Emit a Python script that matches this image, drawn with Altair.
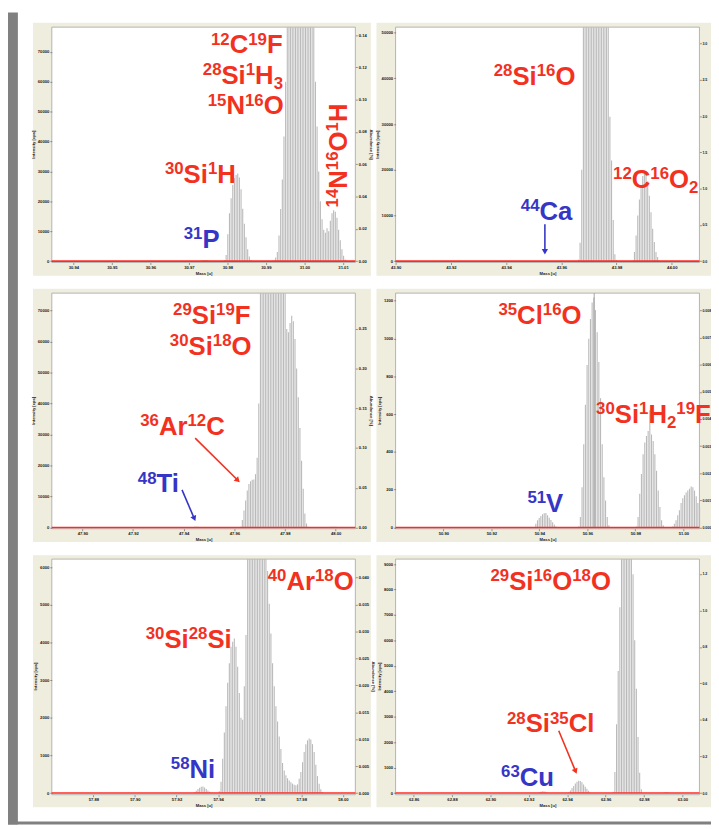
import math
import altair as alt
import pandas as pd

W, H = 711, 821
OFF = 200000  # bar that runs off the top of the plot

# ---------------- data ----------------
# Panel 1  (m/z 31)
P1_X = [30.9344, 31.0132]
P1_XTICKS = [30.94, 30.95, 30.96, 30.97, 30.98, 30.99, 31.00, 31.01]
P1_YMAX = 78270
P1_YTICKS = [0, 10000, 20000, 30000, 40000, 50000, 60000, 70000]
P1_RMAX = 0.1449
P1_RTICKS = [0.0, 0.02, 0.04, 0.06, 0.08, 0.10, 0.12, 0.14]
P1_STEP = 0.00043
P1_STARTS = [30.97314, 30.97923, 30.99209]
P1_PEAKS = [
    [150, 300, 400, 400, 300, 150],
    [300, 2000, 9000, 16000, 21000, 25500, 27800, 28800, 29300, 28000, 24000,
     17500, 12500, 8000, 4000, 1500, 400],
    [300, 1200, 3000, 8600, 17400, 27300, 41700, 60000,
     OFF, OFF, OFF, OFF, OFF, OFF, OFF, OFF, OFF, OFF, OFF, OFF, OFF, OFF, OFF, OFF, OFF,
     60000, 45000, 30000, 20000, 14000, 10500, 9500, 11000, 10000, 13500, 16000,
     17000, 16500, 14500, 10500, 7000, 4000, 1800, 500, 100],
]

# Panel 2  (m/z 44)
P2_X = [43.90, 44.010]
P2_XTICKS = [43.90, 43.92, 43.94, 43.96, 43.98, 44.00]
P2_YMAX = 51210
P2_YTICKS = [0, 10000, 20000, 30000, 40000, 50000]
P2_RMAX = 3.226
P2_RTICKS = [0.0, 0.5, 1.0, 1.5, 2.0, 2.5, 3.0]
P2_STEP = 0.0006
P2_STARTS = [43.96619, 43.98587]
P2_PEAKS = [
    [300, 4000, 20000,
     OFF, OFF, OFF, OFF, OFF, OFF, OFF, OFF, OFF, OFF, OFF, OFF, OFF, OFF, OFF, OFF,
     31600, 22000, 9000, 1500, 200],
    [100, 2000, 5600, 10000, 13500, 16500, 18600, 19300, 19000, 17500, 14300,
     10700, 7100, 4200, 2000, 900, 100],
]

# Panel 3  (m/z 48)
P3_X = [47.8879, 48.0078]
P3_XTICKS = [47.90, 47.92, 47.94, 47.96, 47.98, 48.00]
P3_YMAX = 75610
P3_YTICKS = [0, 10000, 20000, 30000, 40000, 50000, 60000, 70000]
P3_RMAX = 0.2948
P3_RTICKS = [0.0, 0.05, 0.10, 0.15, 0.20, 0.25]
P3_STEP = 0.00065
P3_STARTS = [47.94364, 47.96251, 47.99755]
P3_PEAKS = [
    [100, 200, 250, 200, 100],
    [200, 2400, 5500, 8700, 11900, 14000, 14900, 15400, 15500, 17200, 22500, 40000,
     OFF, OFF, OFF, OFF, OFF, OFF, OFF, OFF, OFF, OFF, OFF, OFF, OFF, OFF, OFF, OFF,
     64000, 63000, 66000, 68300, 66500, 60800, 51300, 42000, 32100, 21500, 12500,
     4500, 1300, 200],
    [100, 200, 250, 250, 200, 100],
]

# Panel 4  (m/z 51)
P4_X = [50.8801, 51.0067]
P4_XTICKS = [50.90, 50.92, 50.94, 50.96, 50.98, 51.00]
P4_YMAX = 1239.8
P4_YTICKS = [0, 200, 400, 600, 800, 1000, 1200]
P4_RMAX = 0.008643
P4_RTICKS = [0.0, 0.001, 0.002, 0.003, 0.004, 0.005, 0.006, 0.007, 0.008]
P4_STEP = 0.0007
P4_STARTS = [50.93783, 50.95639, 50.98043, 50.99556]
P4_PEAKS = [
    [3, 20, 38, 50, 60, 70, 75, 77, 65, 52, 40, 28, 15, 5],
    [5, 56, 213, 440, 649, 859, 998, 1103, 1190, 1217, 1150, 1033, 876, 684, 440,
     265, 143, 56, 12],
    [5, 56, 178, 283, 387, 449, 484, 510, 620, 492, 457, 387, 300, 196, 108, 38, 12],
    [5, 20, 38, 65, 91, 130, 155, 170, 185, 195, 205, 217, 213, 195, 165, 130, 108],
]
P4_MARKER = [50.96286]

# Panel 5  (m/z 58)
P5_X = [57.86, 58.006]
P5_XTICKS = [57.88, 57.90, 57.92, 57.94, 57.96, 57.98, 58.00]
P5_YMAX = 6218
P5_YTICKS = [0, 1000, 2000, 3000, 4000, 5000, 6000]
P5_RMAX = 0.04341
P5_RTICKS = [0.0, 0.005, 0.010, 0.015, 0.020, 0.025, 0.030, 0.035, 0.040]
P5_STEP = 0.0008
P5_STARTS = [57.9287, 57.94059]
P5_PEAKS = [
    [20, 60, 110, 140, 170, 175, 150, 110, 70, 35, 10],
    [50, 300, 910, 1610, 2310, 2930, 3450, 3890, 4020, 4110, 3890, 3360, 2660, 2000,
     1950, 2840, 4200,
     OFF, OFF, OFF, OFF, OFF, OFF, OFF, OFF, OFF, OFF, OFF, OFF,
     5900, 5030, 4240, 3450, 2840, 2310, 1900, 1500, 1170, 800, 600, 470, 390, 330,
     290, 250, 220, 210, 230, 380, 560, 820, 1090, 1300, 1400, 1450, 1420, 1300,
     1090, 750, 450, 250, 100, 30],
]

# Panel 6  (m/z 63)
P6_X = [62.8506, 63.0089]
P6_XTICKS = [62.86, 62.88, 62.90, 62.92, 62.94, 62.96, 62.98, 63.00]
P6_YMAX = 9194
P6_YTICKS = [0, 1000, 2000, 3000, 4000, 5000, 6000, 7000, 8000, 9000]
P6_RMAX = 1.281
P6_RTICKS = [0.0, 0.2, 0.4, 0.6, 0.8, 1.0, 1.2]
P6_STEP = 0.00086
P6_STARTS = [62.92534, 62.94081, 62.96400, 62.99]
P6_PEAKS = [
    [20, 50, 70, 70, 50, 20],
    [20, 100, 200, 280, 375, 440, 480, 475, 420, 340, 245, 170, 90, 20],
    [50, 830, 2700, 4800, 7300, OFF, OFF, OFF, OFF, OFF, OFF, OFF,
     8600, 6000, 4100, 2200, 800, 150],
    [10, 30, 40, 30, 10],
]

# Annotations: "^" = superscript digits, "_" = subscript digits
RED = "#f2311f"
BLUE = "#3636c6"
LABELS = [
    ("^12C^19F", 205.3, 41.3, RED),
    ("^28Si^1H_3", 197.0, 72.0, RED),
    ("^15N^16O", 202.0, 103.0, RED),
    ("^30Si^1H", 158.7, 172.0, RED),
    ("^31P", 177.7, 238.0, BLUE),
    ("^28Si^16O", 491.3, 73.0, RED),
    ("^12C^16O_2", 612.0, 177.0, RED),
    ("^44Ca", 518.7, 209.3, BLUE),
    ("^29Si^19F", 167.0, 315.3, RED),
    ("^30Si^18O", 163.7, 346.0, RED),
    ("^36Ar^12C", 133.7, 427.0, RED),
    ("^48Ti", 131.3, 485.3, BLUE),
    ("^35Cl^16O", 496.0, 315.3, RED),
    ("^30Si^1H_2^19F", 594.8, 414.7, RED),
    ("^51V", 525.3, 505.3, BLUE),
    ("^40Ar^18O", 262.7, 583.7, RED),
    ("^30Si^28Si", 139.3, 643.0, RED),
    ("^58Ni", 164.7, 773.7, BLUE),
    ("^29Si^16O^18O", 488.0, 583.7, RED),
    ("^28Si^35Cl", 504.7, 728.0, RED),
    ("^63Cu", 498.7, 782.0, BLUE),
]
ROT_LABELS = [("^14N^16O^1H", 343.0, 197.0, RED)]
ARROWS = [
    (543.0, 214.0, 543.0, 245.0, BLUE),
    (189.3, 430.3, 234.7, 475.3, RED),
    (176.0, 482.7, 189.7, 514.7, BLUE),
    (557.0, 726.3, 575.3, 770.3, RED),
]

# ---------------- layout / style ----------------
BEIGE = "#efeddd"
FRAME = "#808080"
BAR = "#bababa"
BORDER = "#a4a4a4"
BASE = "#ff2b22"

COL_PX = [(44.3, 351.3), (392.0, 699.3)]
ROW_PX = [(14.7, 251.3, 252.7), (283.7, 520.7, 522.0), (552.7, 789.3, 791.0)]
BEIGE_COL = [(25.3, 367.0), (372.7, 711.0)]
BEIGE_ROW = [(10.3, 266.0), (279.3, 535.3), (548.7, 803.7)]

PANELS = [
    dict(x=P1_X, xt=P1_XTICKS, ymax=P1_YMAX, yt=P1_YTICKS, rmax=P1_RMAX, rt=P1_RTICKS,
         rf=".2f", step=P1_STEP, starts=P1_STARTS, peaks=P1_PEAKS, col=0, row=0),
    dict(x=P2_X, xt=P2_XTICKS, ymax=P2_YMAX, yt=P2_YTICKS, rmax=P2_RMAX, rt=P2_RTICKS,
         rf=".1f", step=P2_STEP, starts=P2_STARTS, peaks=P2_PEAKS, col=1, row=0),
    dict(x=P3_X, xt=P3_XTICKS, ymax=P3_YMAX, yt=P3_YTICKS, rmax=P3_RMAX, rt=P3_RTICKS,
         rf=".2f", step=P3_STEP, starts=P3_STARTS, peaks=P3_PEAKS, col=0, row=1),
    dict(x=P4_X, xt=P4_XTICKS, ymax=P4_YMAX, yt=P4_YTICKS, rmax=P4_RMAX, rt=P4_RTICKS,
         rf=".3f", step=P4_STEP, starts=P4_STARTS, peaks=P4_PEAKS, col=1, row=1,
         marker=P4_MARKER),
    dict(x=P5_X, xt=P5_XTICKS, ymax=P5_YMAX, yt=P5_YTICKS, rmax=P5_RMAX, rt=P5_RTICKS,
         rf=".3f", step=P5_STEP, starts=P5_STARTS, peaks=P5_PEAKS, col=0, row=2),
    dict(x=P6_X, xt=P6_XTICKS, ymax=P6_YMAX, yt=P6_YTICKS, rmax=P6_RMAX, rt=P6_RTICKS,
         rf=".1f", step=P6_STEP, starts=P6_STARTS, peaks=P6_PEAKS, col=1, row=2),
]

AX = dict(domain=False, grid=False, labelFont="Liberation Sans",
          labelFontWeight="bold", labelColor="#222222", tickSize=2, tickColor="#555555",
          tickWidth=0.6, titleFont="Liberation Sans", titleFontSize=4.2,
          titleFontWeight="bold", titleColor="#222222", titlePadding=2, zindex=1,
          labelFlush=False, labelOverlap=False)

ADV = {"0": .556, "1": .556, "2": .556, "3": .556, "4": .556, "5": .556, "6": .556,
       "7": .556, "8": .556, "9": .556, "C": .722, "F": .611, "S": .667, "i": .278,
       "H": .722, "N": .722, "O": .778, "P": .667, "a": .556, "r": .389, "A": .722,
       "T": .611, "l": .278, "V": .667, "u": .611}
MAIN, SMALL, RAISE, DROP = 26, 17, 9, 5


def parse(s):
    segs, i = [], 0
    while i < len(s):
        if s[i] in "^_":
            j = i + 1
            while j < len(s) and s[j].isdigit():
                j += 1
            segs.append((s[i + 1:j], "sup" if s[i] == "^" else "sub"))
            i = j
        else:
            j = i
            while j < len(s) and s[j] not in "^_":
                j += 1
            segs.append((s[i:j], "main"))
            i = j
    return segs


def text_rows(labels, rotated):
    rows = []
    for s, bx, by, c in labels:
        cur = 0.0
        for t, kind in parse(s):
            size = MAIN if kind == "main" else SMALL
            off = -RAISE if kind == "sup" else (DROP if kind == "sub" else 0)
            if rotated:
                rows.append(dict(x=bx + off, y=by - cur, t=t, s=size, c=c))
            else:
                rows.append(dict(x=bx + cur, y=by + off, t=t, s=size, c=c))
            cur += sum(ADV[ch] for ch in t) * size
    return pd.DataFrame(rows)


layers = []

# frame and panel backgrounds
deco = [dict(x0=0, x1=10, y0=0, y1=H, f=FRAME), dict(x0=0, x1=W, y0=818, y1=H, f=FRAME)]
plots = []
for p in PANELS:
    bx0, bx1 = BEIGE_COL[p["col"]]
    by0, by1 = BEIGE_ROW[p["row"]]
    deco.append(dict(x0=bx0, x1=bx1, y0=by0, y1=by1, f=BEIGE))
    px0, px1 = COL_PX[p["col"]]
    top, zero, bottom = ROW_PX[p["row"]]
    plots.append(dict(x0=px0, x1=px1, y0=top, y1=bottom))

layers.append(alt.Chart(pd.DataFrame(deco)).mark_rect().encode(
    x=alt.X("x0:Q", scale=None), x2="x1:Q",
    y=alt.Y("y0:Q", scale=None), y2="y1:Q",
    fill=alt.Fill("f:N", scale=None)))
layers.append(alt.Chart(pd.DataFrame(plots)).mark_rect(
    fill="white", stroke=BORDER, strokeWidth=0.8).encode(
    x=alt.X("x0:Q", scale=None), x2="x1:Q",
    y=alt.Y("y0:Q", scale=None), y2="y1:Q"))

for p in PANELS:
    px0, px1 = COL_PX[p["col"]]
    top, zero, bottom = ROW_PX[p["row"]]
    right_col = p["col"] == 1
    rows = []
    for st, vals in zip(p["starts"], p["peaks"]):
        for k, v in enumerate(vals):
            rows.append(dict(m=st + k * p["step"], v=v))
    df = pd.DataFrame(rows)
    xs = alt.Scale(domain=p["x"], range=[px0, px1], nice=False, zero=False)
    ys = alt.Scale(domain=[0, p["ymax"]], range=[zero, top], nice=False, zero=False,
                   clamp=True)
    rs = alt.Scale(domain=[0, p["rmax"]], range=[zero, top], nice=False, zero=False)
    layers.append(alt.Chart(df).mark_rule(color=BAR, strokeWidth=1.1).encode(
        x=alt.X("m:Q", scale=xs, axis=alt.Axis(
            orient="bottom", offset=bottom - H, values=p["xt"], format=".2f",
            title="Mass [u]", labelFontSize=4.2, labelPadding=1, **AX)),
        y=alt.Y("v:Q", scale=ys, axis=alt.Axis(
            orient="left", offset=-px0, values=p["yt"], format="d",
            title="Intensity [cps]", labelFontSize=4.2, labelPadding=1, **AX)),
        y2=alt.datum(0)))
    if "marker" in p:
        layers.append(alt.Chart(pd.DataFrame({"m": p["marker"], "v": [p["ymax"]]}))
                      .mark_rule(color="#9a9a9a", strokeWidth=0.9).encode(
            x=alt.X("m:Q", scale=xs, axis=None),
            y=alt.Y("v:Q", scale=ys, axis=None),
            y2=alt.datum(0)))
    raxis = dict(orient="right", offset=px1 - W, values=p["rt"], format=p["rf"],
                 labelFontSize=3.6 if right_col else 4.2,
                 labelPadding=0.5 if right_col else 1, **AX)
    if right_col:
        raxis["title"] = None
    else:
        raxis["title"] = "Abundance [%]"
    layers.append(alt.Chart(pd.DataFrame({"z": [0]})).mark_rule(
        color=BASE, strokeWidth=1.6).encode(
        y=alt.Y("z:Q", scale=rs, axis=alt.Axis(**raxis)),
        x=alt.value(px0), x2=alt.value(px1)))

# annotations
tenc = dict(x=alt.X("x:Q", scale=None), y=alt.Y("y:Q", scale=None), text="t:N",
            size=alt.Size("s:Q", scale=None), color=alt.Color("c:N", scale=None))
layers.append(alt.Chart(text_rows(LABELS, False)).mark_text(
    align="left", baseline="alphabetic", font="Liberation Sans",
    fontWeight="bold").encode(**tenc))
layers.append(alt.Chart(text_rows(ROT_LABELS, True)).mark_text(
    align="left", baseline="alphabetic", font="Liberation Sans",
    fontWeight="bold", angle=270).encode(**tenc))

lines, heads = [], []
for x0, y0, x1, y1, c in ARROWS:
    L = math.hypot(x1 - x0, y1 - y0)
    ux, uy = (x1 - x0) / L, (y1 - y0) / L
    lines.append(dict(x0=x0, y0=y0, x1=x1 - ux * 4, y1=y1 - uy * 4, c=c))
    ang = math.degrees(math.atan2(ux, -uy)) % 360
    heads.append(dict(x=x1 - ux * 3.2, y=y1 - uy * 3.2, a=ang, c=c))
layers.append(alt.Chart(pd.DataFrame(lines)).mark_rule(strokeWidth=1.6).encode(
    x=alt.X("x0:Q", scale=None), y=alt.Y("y0:Q", scale=None), x2="x1:Q", y2="y1:Q",
    color=alt.Color("c:N", scale=None)))
layers.append(alt.Chart(pd.DataFrame(heads)).mark_point(
    shape="triangle-up", filled=True, size=40, opacity=1, strokeWidth=0).encode(
    x=alt.X("x:Q", scale=None), y=alt.Y("y:Q", scale=None),
    angle=alt.Angle("a:Q", scale=None), color=alt.Color("c:N", scale=None)))

chart = (alt.layer(*layers)
         .resolve_scale(x="independent", y="independent")
         .resolve_axis(x="independent", y="independent")
         .properties(width=W, height=H, autosize=alt.AutoSizeParams(type="none"),
                     padding=0, background="white")
         .configure(font="Liberation Sans")
         .configure_view(strokeWidth=0, stroke=None))

chart.save("out.html", embed_options={"renderer": "svg", "actions": False})
